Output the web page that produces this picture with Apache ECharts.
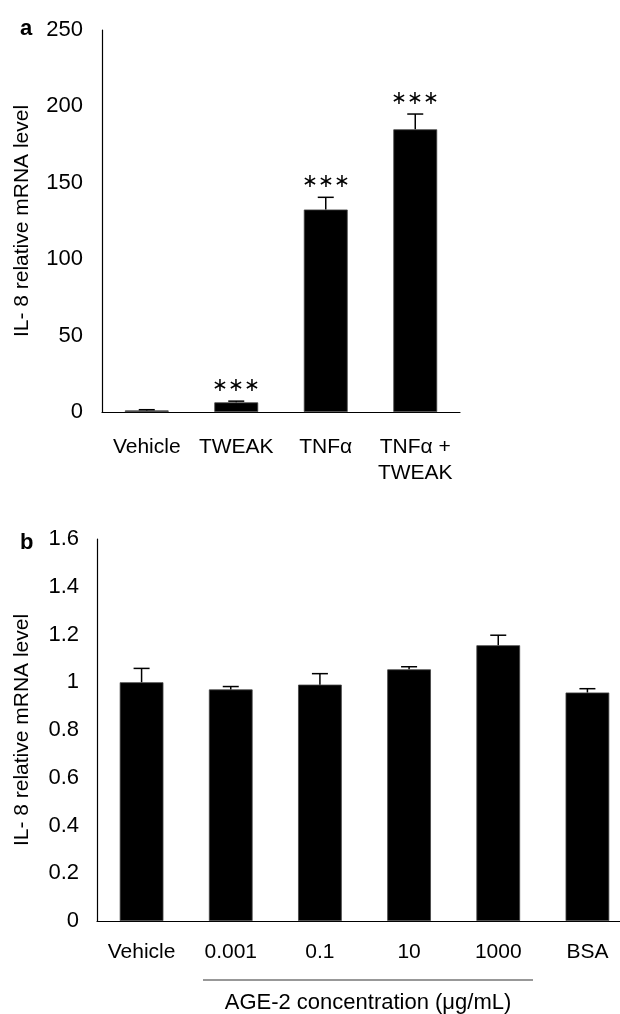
<!DOCTYPE html>
<html>
<head>
<meta charset="utf-8">
<script src="https://cdn.jsdelivr.net/npm/echarts@6/dist/echarts.min.js"></script>
<style>
html,body{margin:0;padding:0;background:#fff;}
#chart{width:620px;height:1014px;}
</style>
</head>
<body>
<div id="chart"></div>
<script>
// Panel a
var catsA = ['Vehicle', 'TWEAK', 'TNFα', 'TNFα +\nTWEAK'];
var valsA = [1, 6.3, 132.5, 185];
var errsA = [0.5, 0.8, 8, 10];
var sigA = ['', '∗∗∗', '∗∗∗', '∗∗∗'];
var ticksA = {min: 0, max: 250, interval: 50};

// Panel b
var catsB = ['Vehicle', '0.001', '0.1', '10', '1000', 'BSA'];
var valsB = [1.0, 0.97, 0.99, 1.054, 1.155, 0.957];
var errsB = [0.058, 0.012, 0.046, 0.011, 0.042, 0.016];
var ticksB = {min: 0, max: 1.6, interval: 0.2};

var yTitle = 'IL- 8 relative mRNA level';
var groupLabelB = 'AGE-2 concentration (μg/mL)';

var FONT = '"Liberation Sans", Arial, sans-serif';
var chart = echarts.init(document.getElementById('chart'), null, {renderer: 'canvas'});

function errRender(vals, errs, sig) {
  return function (params, api) {
    var i = api.value(0);
    var v = vals[i], e = errs[i];
    var top = api.coord([i, v + e]);
    var base = api.coord([i, v]);
    var cap = 8;
    var children = [
      {type: 'line', shape: {x1: top[0], y1: base[1], x2: top[0], y2: top[1]}, style: {stroke: '#000', lineWidth: 1.5}},
      {type: 'line', shape: {x1: top[0] - cap, y1: top[1], x2: top[0] + cap, y2: top[1]}, style: {stroke: '#000', lineWidth: 1.5}}
    ];
    if (sig && sig[i]) {
      children.push({type: 'text', style: {text: sig[i], x: top[0], y: top[1] - 6, align: 'center', verticalAlign: 'bottom', font: '19px ' + FONT, fill: '#000'}});
    }
    return {type: 'group', children: children};
  };
}

var axisLine = {show: true, lineStyle: {color: '#000', width: 1.2}};

chart.setOption({
  animation: false,
  backgroundColor: '#fff',
  title: [
    {text: 'a', left: 15, top: 13, textStyle: {fontFamily: FONT, fontWeight: 'bold', fontSize: 22, color: '#000'}},
    {text: 'b', left: 15, top: 527, textStyle: {fontFamily: FONT, fontWeight: 'bold', fontSize: 22, color: '#000'}}
  ],
  grid: [
    {left: 102, top: 30, width: 358, height: 382, outerBoundsMode: 'none', containLabel: false},
    {left: 97, top: 539, width: 535, height: 382, outerBoundsMode: 'none', containLabel: false}
  ],
  xAxis: [
    {type: 'category', gridIndex: 0, data: catsA, axisLine: axisLine, axisTick: {show: false},
     axisLabel: {fontFamily: FONT, fontSize: 21, color: '#000', margin: 22, lineHeight: 26, interval: 0}},
    {type: 'category', gridIndex: 1, data: catsB, axisLine: axisLine, axisTick: {show: false},
     axisLabel: {fontFamily: FONT, fontSize: 21, color: '#000', margin: 21, interval: 0}}
  ],
  yAxis: [
    {type: 'value', gridIndex: 0, min: ticksA.min, max: ticksA.max, interval: ticksA.interval,
     axisLine: axisLine, axisTick: {show: false}, splitLine: {show: false},
     axisLabel: {fontFamily: FONT, fontSize: 22, color: '#000', margin: 19},
     name: yTitle, nameLocation: 'middle', nameRotate: 90, nameGap: 69,
     nameTextStyle: {fontFamily: FONT, fontSize: 21, color: '#000'}},
    {type: 'value', gridIndex: 1, min: ticksB.min, max: ticksB.max, interval: ticksB.interval,
     axisLine: axisLine, axisTick: {show: false}, splitLine: {show: false},
     axisLabel: {fontFamily: FONT, fontSize: 22, color: '#000', margin: 18},
     name: yTitle, nameLocation: 'middle', nameRotate: 90, nameGap: 64,
     nameTextStyle: {fontFamily: FONT, fontSize: 21, color: '#000'}}
  ],
  series: [
    {type: 'bar', xAxisIndex: 0, yAxisIndex: 0, data: valsA, barWidth: '49%',
     itemStyle: {color: '#000', borderColor: '#444', borderWidth: 0.8}},
    {type: 'custom', xAxisIndex: 0, yAxisIndex: 0, data: catsA.map(function (c, i) { return [i, valsA[i] + errsA[i]]; }),
     renderItem: errRender(valsA, errsA, sigA), z: 5},
    {type: 'bar', xAxisIndex: 1, yAxisIndex: 1, data: valsB, barWidth: '49%',
     itemStyle: {color: '#000', borderColor: '#444', borderWidth: 0.8}},
    {type: 'custom', xAxisIndex: 1, yAxisIndex: 1, data: catsB.map(function (c, i) { return [i, valsB[i] + errsB[i]]; }),
     renderItem: errRender(valsB, errsB, null), z: 5}
  ],
  graphic: [
    {type: 'line', shape: {x1: 203, y1: 980, x2: 533, y2: 980}, style: {stroke: '#333', lineWidth: 1.2}},
    {type: 'text', x: 368, y: 1003, style: {text: groupLabelB, align: 'center', verticalAlign: 'middle', font: '22px ' + FONT, fill: '#000'}}
  ]
});
</script>
</body>
</html>
